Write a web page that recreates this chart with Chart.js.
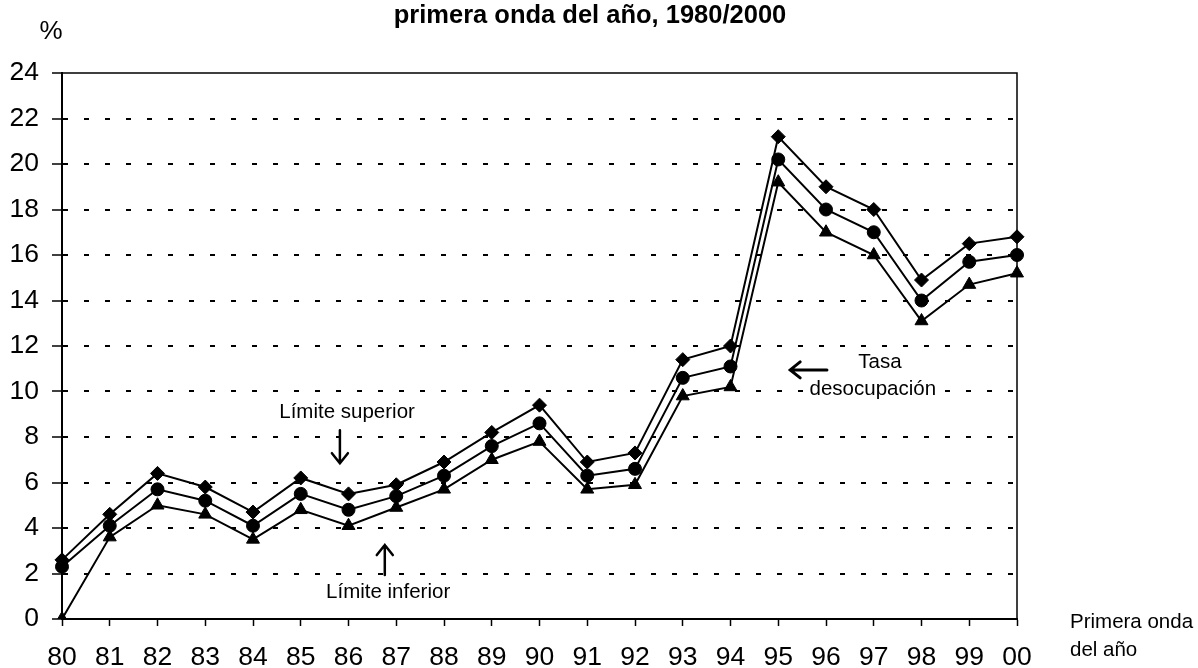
<!DOCTYPE html>
<html>
<head>
<meta charset="utf-8">
<script src="https://cdn.jsdelivr.net/npm/chart.js@4/dist/chart.umd.min.js"></script>
<style>
html,body{margin:0;padding:0;background:#fff;}
#wrap{width:1198px;height:668px;}
</style>
</head>
<body>
<div id="wrap"><canvas id="c" width="1198" height="668"></canvas></div>
<script>
const categories = ['80','81','82','83','84','85','86','87','88','89','90','91','92','93','94','95','96','97','98','99','00'];
const limiteSuperior = [2.6,4.6,6.4,5.8,4.7,6.2,5.5,5.9,6.9,8.2,9.4,6.9,7.3,11.4,12.0,21.2,19.0,18.0,14.9,16.5,16.8];
const tasaDesocupacion = [2.3,4.1,5.7,5.2,4.1,5.5,4.8,5.4,6.3,7.6,8.6,6.3,6.6,10.6,11.1,20.2,18.0,17.0,14.0,15.7,16.0];
const limiteInferior = [0.0,3.6,5.0,4.6,3.5,4.8,4.1,4.9,5.7,7.0,7.8,5.7,5.9,9.8,10.2,19.2,17.0,16.0,13.1,14.7,15.2];
const yTicks = [0,2,4,6,8,10,12,14,16,18,20,22,24];

const FONT = '"Liberation Sans", Arial, Helvetica, sans-serif';

const decor = {
  id: 'decor',
  beforeDraw(chart) {
    const ctx = chart.ctx;
    ctx.save();
    ctx.fillStyle = '#fff';
    ctx.fillRect(0, 0, chart.width, chart.height);
    ctx.restore();
  },
  afterDraw(chart) {
    const ctx = chart.ctx;
    const a = chart.chartArea;
    const xs = chart.scales.x, ys = chart.scales.y;
    const X = v => xs.getPixelForValue(v);
    const Y = v => ys.getPixelForValue(v);
    ctx.save();
    // frame top and right
    ctx.strokeStyle = '#000';
    ctx.lineWidth = 1.5;
    ctx.beginPath();
    ctx.moveTo(a.left, a.top);
    ctx.lineTo(a.right, a.top);
    ctx.lineTo(a.right, a.bottom);
    ctx.stroke();

    ctx.fillStyle = '#000';
    // title
    ctx.font = 'bold 25.5px ' + FONT;
    ctx.textAlign = 'center';
    ctx.textBaseline = 'alphabetic';
    ctx.fillText('primera onda del año, 1980/2000', 590, 23);
    // percent
    ctx.font = '26px ' + FONT;
    ctx.fillText('%', 51, 39);

    // annotations
    ctx.font = '20.5px ' + FONT;
    ctx.textBaseline = 'middle';
    ctx.fillText('Límite superior', X(5.97), Y(9.1));
    ctx.fillText('Límite inferior', X(6.83), Y(1.19));
    ctx.fillText('Tasa', X(17.13), Y(11.3));
    const dw = ctx.measureText('desocupación').width;
    ctx.fillStyle = '#fff';
    ctx.fillRect(X(16.98) - dw / 2 - 2, Y(10.1) - 10, dw + 4, 20);
    ctx.fillStyle = '#000';
    ctx.fillText('desocupación', X(16.98), Y(10.1));

    ctx.textAlign = 'left';
    ctx.font = '20.5px ' + FONT;
    ctx.fillText('Primera onda', 1070, 622);
    ctx.fillText('del año', 1070, 650);

    // arrows
    ctx.lineWidth = 2.5;
    ctx.lineCap = 'round';
    // down arrow
    let ax = X(5.82), y1 = Y(8.3), y2 = Y(6.85);
    ctx.beginPath();
    ctx.moveTo(ax, y1); ctx.lineTo(ax, y2);
    ctx.moveTo(ax - 8, y2 - 10); ctx.lineTo(ax, y2); ctx.lineTo(ax + 8, y2 - 10);
    ctx.stroke();
    // up arrow
    ax = X(6.76); y1 = Y(1.93); y2 = Y(3.25);
    ctx.beginPath();
    ctx.moveTo(ax, y1); ctx.lineTo(ax, y2);
    ctx.moveTo(ax - 8, y2 + 10); ctx.lineTo(ax, y2); ctx.lineTo(ax + 8, y2 + 10);
    ctx.stroke();
    // left arrow
    ctx.lineWidth = 3;
    const ly = Y(10.95), lx1 = X(16.02), lx2 = X(15.25);
    ctx.beginPath();
    ctx.moveTo(lx1, ly); ctx.lineTo(lx2, ly);
    ctx.moveTo(lx2 + 10, ly - 8); ctx.lineTo(lx2, ly); ctx.lineTo(lx2 + 10, ly + 8);
    ctx.stroke();
    ctx.restore();
  }
};

const common = {
  borderColor: '#000',
  backgroundColor: '#000',
  pointBorderColor: '#000',
  pointBackgroundColor: '#000',
  borderWidth: 2,
  pointBorderWidth: 1,
  fill: false,
  tension: 0
};

new Chart(document.getElementById('c'), {
  type: 'line',
  data: {
    labels: categories,
    datasets: [
      Object.assign({label: 'Límite superior', data: limiteSuperior, pointStyle: 'rectRot', pointRadius: 7}, common),
      Object.assign({label: 'Tasa desocupación', data: tasaDesocupacion, pointStyle: 'circle', pointRadius: 6.5}, common),
      Object.assign({label: 'Límite inferior', data: limiteInferior, pointStyle: 'triangle', pointRadius: 7.5}, common)
    ]
  },
  options: {
    responsive: false,
    animation: false,
    devicePixelRatio: 1,
    layout: { padding: { left: 0, right: 181, top: 73, bottom: 0 } },
    plugins: { legend: { display: false }, title: { display: false }, tooltip: { enabled: false } },
    scales: {
      x: {
        type: 'category',
        offset: false,
        grid: { display: true, drawOnChartArea: false, drawTicks: true, tickLength: 7, tickColor: '#000', tickWidth: 1.5 },
        border: { display: true, color: '#000', width: 2 },
        ticks: { color: '#000', font: { family: FONT, size: 26.5 }, padding: 16, maxRotation: 0, autoSkip: false },
        afterFit(s) { s.height = 49; }
      },
      y: {
        min: 0, max: 24,
        afterBuildTicks(s) { s.ticks = yTicks.map(v => ({ value: v })); },
        grid: {
          color: c => (c.tick && (c.tick.value === 0 || c.tick.value === 24)) ? 'rgba(0,0,0,0)' : '#000',
          lineWidth: 2,
          tickColor: '#000', tickLength: 10, tickWidth: 1.5
        },
        border: { display: true, color: '#000', width: 2, dash: [5, 16], dashOffset: 0 },
        ticks: { color: '#000', font: { family: FONT, size: 26.5 }, padding: 13 },
        afterFit(s) { s.width = 62; }
      }
    }
  },
  plugins: [decor]
});
</script>
</body>
</html>
